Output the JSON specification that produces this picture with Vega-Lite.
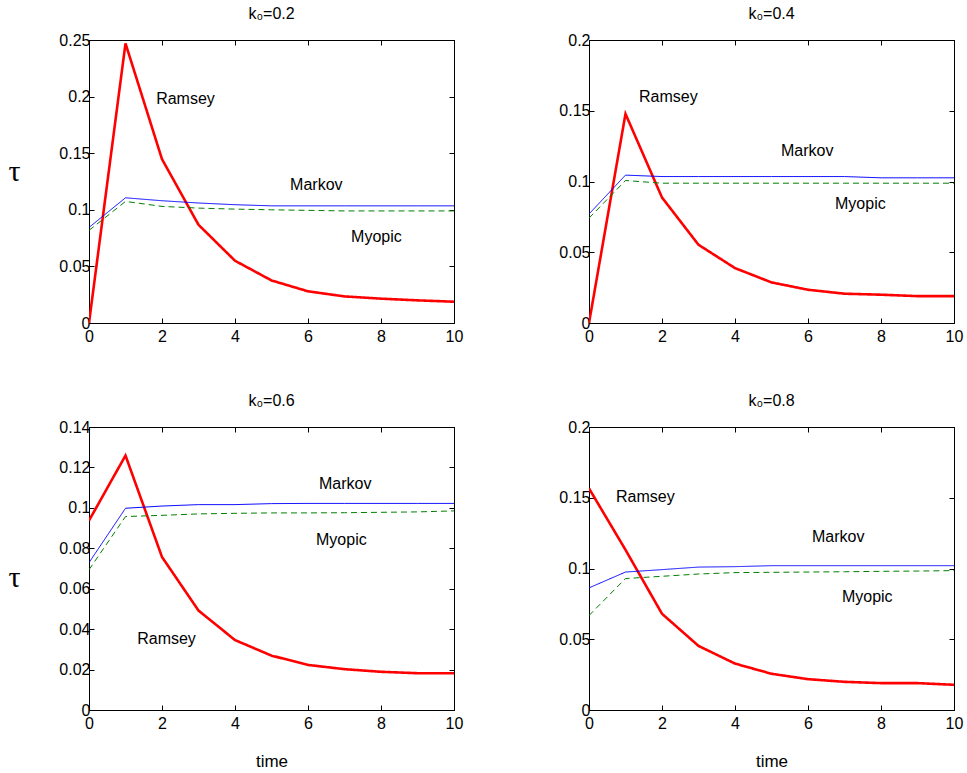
{
  "$schema": "https://vega.github.io/schema/vega-lite/v6.json",
  "background": "white",
  "padding": {"left": 7, "top": 5, "right": 5, "bottom": 5},
  "config": {
    "view": {"stroke": "black", "strokeWidth": 1},
    "axis": {"grid": false, "tickSize": -5, "tickColor": "black", "domainColor": "black", "labelColor": "black", "labelFont": "Liberation Sans", "labelFontSize": 16, "titleColor": "black", "titleFontWeight": "normal", "titleFont": "Liberation Sans", "titleFontSize": 17, "labelFlush": false, "labelOverlap": false},
    "axisX": {"labelPadding": 10},
    "axisY": {"labelPadding": 4},
    "title": {"font": "Liberation Sans", "fontSize": 16, "fontWeight": "normal", "color": "black", "offset": 10},
    "text": {"font": "Liberation Sans", "fontSize": 16, "color": "black"}
  },
  "datasets": {
    "lines": [
      {"panel": "0.2", "series": "Ramsey", "time": 0, "value": 0},
      {"panel": "0.2", "series": "Ramsey", "time": 1, "value": 0.247},
      {"panel": "0.2", "series": "Ramsey", "time": 2, "value": 0.1447},
      {"panel": "0.2", "series": "Ramsey", "time": 3, "value": 0.0868},
      {"panel": "0.2", "series": "Ramsey", "time": 4, "value": 0.055},
      {"panel": "0.2", "series": "Ramsey", "time": 5, "value": 0.0376},
      {"panel": "0.2", "series": "Ramsey", "time": 6, "value": 0.028},
      {"panel": "0.2", "series": "Ramsey", "time": 7, "value": 0.0235},
      {"panel": "0.2", "series": "Ramsey", "time": 8, "value": 0.0215},
      {"panel": "0.2", "series": "Ramsey", "time": 9, "value": 0.02},
      {"panel": "0.2", "series": "Ramsey", "time": 10, "value": 0.0188},
      {"panel": "0.2", "series": "Markov", "time": 0, "value": 0.0844},
      {"panel": "0.2", "series": "Markov", "time": 1, "value": 0.1106},
      {"panel": "0.2", "series": "Markov", "time": 2, "value": 0.108},
      {"panel": "0.2", "series": "Markov", "time": 3, "value": 0.106},
      {"panel": "0.2", "series": "Markov", "time": 4, "value": 0.1045},
      {"panel": "0.2", "series": "Markov", "time": 5, "value": 0.1035},
      {"panel": "0.2", "series": "Markov", "time": 6, "value": 0.1035},
      {"panel": "0.2", "series": "Markov", "time": 7, "value": 0.1035},
      {"panel": "0.2", "series": "Markov", "time": 8, "value": 0.1035},
      {"panel": "0.2", "series": "Markov", "time": 9, "value": 0.1035},
      {"panel": "0.2", "series": "Markov", "time": 10, "value": 0.1035},
      {"panel": "0.2", "series": "Myopic", "time": 0, "value": 0.0818},
      {"panel": "0.2", "series": "Myopic", "time": 1, "value": 0.1074},
      {"panel": "0.2", "series": "Myopic", "time": 2, "value": 0.103},
      {"panel": "0.2", "series": "Myopic", "time": 3, "value": 0.1015},
      {"panel": "0.2", "series": "Myopic", "time": 4, "value": 0.1006},
      {"panel": "0.2", "series": "Myopic", "time": 5, "value": 0.1},
      {"panel": "0.2", "series": "Myopic", "time": 6, "value": 0.0995},
      {"panel": "0.2", "series": "Myopic", "time": 7, "value": 0.099},
      {"panel": "0.2", "series": "Myopic", "time": 8, "value": 0.099},
      {"panel": "0.2", "series": "Myopic", "time": 9, "value": 0.099},
      {"panel": "0.2", "series": "Myopic", "time": 10, "value": 0.099},
      {"panel": "0.4", "series": "Ramsey", "time": 0, "value": 0},
      {"panel": "0.4", "series": "Ramsey", "time": 1, "value": 0.1478},
      {"panel": "0.4", "series": "Ramsey", "time": 2, "value": 0.0887},
      {"panel": "0.4", "series": "Ramsey", "time": 3, "value": 0.0553},
      {"panel": "0.4", "series": "Ramsey", "time": 4, "value": 0.0388},
      {"panel": "0.4", "series": "Ramsey", "time": 5, "value": 0.0287},
      {"panel": "0.4", "series": "Ramsey", "time": 6, "value": 0.0235},
      {"panel": "0.4", "series": "Ramsey", "time": 7, "value": 0.0207},
      {"panel": "0.4", "series": "Ramsey", "time": 8, "value": 0.02},
      {"panel": "0.4", "series": "Ramsey", "time": 9, "value": 0.019},
      {"panel": "0.4", "series": "Ramsey", "time": 10, "value": 0.019},
      {"panel": "0.4", "series": "Markov", "time": 0, "value": 0.077},
      {"panel": "0.4", "series": "Markov", "time": 1, "value": 0.1045},
      {"panel": "0.4", "series": "Markov", "time": 2, "value": 0.1035},
      {"panel": "0.4", "series": "Markov", "time": 3, "value": 0.1035},
      {"panel": "0.4", "series": "Markov", "time": 4, "value": 0.1035},
      {"panel": "0.4", "series": "Markov", "time": 5, "value": 0.1035},
      {"panel": "0.4", "series": "Markov", "time": 6, "value": 0.1035},
      {"panel": "0.4", "series": "Markov", "time": 7, "value": 0.1035},
      {"panel": "0.4", "series": "Markov", "time": 8, "value": 0.1026},
      {"panel": "0.4", "series": "Markov", "time": 9, "value": 0.1026},
      {"panel": "0.4", "series": "Markov", "time": 10, "value": 0.1026},
      {"panel": "0.4", "series": "Myopic", "time": 0, "value": 0.0741},
      {"panel": "0.4", "series": "Myopic", "time": 1, "value": 0.1007},
      {"panel": "0.4", "series": "Myopic", "time": 2, "value": 0.0988},
      {"panel": "0.4", "series": "Myopic", "time": 3, "value": 0.0988},
      {"panel": "0.4", "series": "Myopic", "time": 4, "value": 0.0988},
      {"panel": "0.4", "series": "Myopic", "time": 5, "value": 0.0988},
      {"panel": "0.4", "series": "Myopic", "time": 6, "value": 0.0988},
      {"panel": "0.4", "series": "Myopic", "time": 7, "value": 0.0988},
      {"panel": "0.4", "series": "Myopic", "time": 8, "value": 0.0988},
      {"panel": "0.4", "series": "Myopic", "time": 9, "value": 0.0988},
      {"panel": "0.4", "series": "Myopic", "time": 10, "value": 0.0988},
      {"panel": "0.6", "series": "Ramsey", "time": 0, "value": 0.0937},
      {"panel": "0.6", "series": "Ramsey", "time": 1, "value": 0.1259},
      {"panel": "0.6", "series": "Ramsey", "time": 2, "value": 0.0757},
      {"panel": "0.6", "series": "Ramsey", "time": 3, "value": 0.0492},
      {"panel": "0.6", "series": "Ramsey", "time": 4, "value": 0.0346},
      {"panel": "0.6", "series": "Ramsey", "time": 5, "value": 0.0269},
      {"panel": "0.6", "series": "Ramsey", "time": 6, "value": 0.0223},
      {"panel": "0.6", "series": "Ramsey", "time": 7, "value": 0.0202},
      {"panel": "0.6", "series": "Ramsey", "time": 8, "value": 0.0189},
      {"panel": "0.6", "series": "Ramsey", "time": 9, "value": 0.0182},
      {"panel": "0.6", "series": "Ramsey", "time": 10, "value": 0.0182},
      {"panel": "0.6", "series": "Markov", "time": 0, "value": 0.0729},
      {"panel": "0.6", "series": "Markov", "time": 1, "value": 0.0998},
      {"panel": "0.6", "series": "Markov", "time": 2, "value": 0.1009},
      {"panel": "0.6", "series": "Markov", "time": 3, "value": 0.1016},
      {"panel": "0.6", "series": "Markov", "time": 4, "value": 0.1016},
      {"panel": "0.6", "series": "Markov", "time": 5, "value": 0.1021},
      {"panel": "0.6", "series": "Markov", "time": 6, "value": 0.1022},
      {"panel": "0.6", "series": "Markov", "time": 7, "value": 0.1022},
      {"panel": "0.6", "series": "Markov", "time": 8, "value": 0.1022},
      {"panel": "0.6", "series": "Markov", "time": 9, "value": 0.1022},
      {"panel": "0.6", "series": "Markov", "time": 10, "value": 0.1022},
      {"panel": "0.6", "series": "Myopic", "time": 0, "value": 0.0694},
      {"panel": "0.6", "series": "Myopic", "time": 1, "value": 0.0957},
      {"panel": "0.6", "series": "Myopic", "time": 2, "value": 0.0963},
      {"panel": "0.6", "series": "Myopic", "time": 3, "value": 0.097},
      {"panel": "0.6", "series": "Myopic", "time": 4, "value": 0.0973},
      {"panel": "0.6", "series": "Myopic", "time": 5, "value": 0.0975},
      {"panel": "0.6", "series": "Myopic", "time": 6, "value": 0.0975},
      {"panel": "0.6", "series": "Myopic", "time": 7, "value": 0.0976},
      {"panel": "0.6", "series": "Myopic", "time": 8, "value": 0.0978},
      {"panel": "0.6", "series": "Myopic", "time": 9, "value": 0.098},
      {"panel": "0.6", "series": "Myopic", "time": 10, "value": 0.0985},
      {"panel": "0.8", "series": "Ramsey", "time": 0, "value": 0.1566},
      {"panel": "0.8", "series": "Ramsey", "time": 1, "value": 0.1132},
      {"panel": "0.8", "series": "Ramsey", "time": 2, "value": 0.068},
      {"panel": "0.8", "series": "Ramsey", "time": 3, "value": 0.0453},
      {"panel": "0.8", "series": "Ramsey", "time": 4, "value": 0.0328},
      {"panel": "0.8", "series": "Ramsey", "time": 5, "value": 0.0256},
      {"panel": "0.8", "series": "Ramsey", "time": 6, "value": 0.0218},
      {"panel": "0.8", "series": "Ramsey", "time": 7, "value": 0.0199},
      {"panel": "0.8", "series": "Ramsey", "time": 8, "value": 0.019},
      {"panel": "0.8", "series": "Ramsey", "time": 9, "value": 0.019},
      {"panel": "0.8", "series": "Ramsey", "time": 10, "value": 0.0178},
      {"panel": "0.8", "series": "Markov", "time": 0, "value": 0.0863},
      {"panel": "0.8", "series": "Markov", "time": 1, "value": 0.0975},
      {"panel": "0.8", "series": "Markov", "time": 2, "value": 0.0992},
      {"panel": "0.8", "series": "Markov", "time": 3, "value": 0.101},
      {"panel": "0.8", "series": "Markov", "time": 4, "value": 0.1013},
      {"panel": "0.8", "series": "Markov", "time": 5, "value": 0.102},
      {"panel": "0.8", "series": "Markov", "time": 6, "value": 0.102},
      {"panel": "0.8", "series": "Markov", "time": 7, "value": 0.102},
      {"panel": "0.8", "series": "Markov", "time": 8, "value": 0.102},
      {"panel": "0.8", "series": "Markov", "time": 9, "value": 0.102},
      {"panel": "0.8", "series": "Markov", "time": 10, "value": 0.102},
      {"panel": "0.8", "series": "Myopic", "time": 0, "value": 0.0668},
      {"panel": "0.8", "series": "Myopic", "time": 1, "value": 0.0929},
      {"panel": "0.8", "series": "Myopic", "time": 2, "value": 0.0945},
      {"panel": "0.8", "series": "Myopic", "time": 3, "value": 0.0961},
      {"panel": "0.8", "series": "Myopic", "time": 4, "value": 0.0971},
      {"panel": "0.8", "series": "Myopic", "time": 5, "value": 0.0973},
      {"panel": "0.8", "series": "Myopic", "time": 6, "value": 0.0975},
      {"panel": "0.8", "series": "Myopic", "time": 7, "value": 0.0977},
      {"panel": "0.8", "series": "Myopic", "time": 8, "value": 0.098},
      {"panel": "0.8", "series": "Myopic", "time": 9, "value": 0.0982},
      {"panel": "0.8", "series": "Myopic", "time": 10, "value": 0.0985}
    ],
    "labels": [
      {"panel": "0.2", "series": "Ramsey", "time": 1.84, "value": 0.198},
      {"panel": "0.2", "series": "Markov", "time": 5.51, "value": 0.122},
      {"panel": "0.2", "series": "Myopic", "time": 7.18, "value": 0.076},
      {"panel": "0.4", "series": "Ramsey", "time": 1.37, "value": 0.16},
      {"panel": "0.4", "series": "Markov", "time": 5.26, "value": 0.1216},
      {"panel": "0.4", "series": "Myopic", "time": 6.74, "value": 0.084},
      {"panel": "0.6", "series": "Ramsey", "time": 1.32, "value": 0.035},
      {"panel": "0.6", "series": "Markov", "time": 6.3, "value": 0.112},
      {"panel": "0.6", "series": "Myopic", "time": 6.22, "value": 0.0843},
      {"panel": "0.8", "series": "Ramsey", "time": 0.74, "value": 0.1507},
      {"panel": "0.8", "series": "Markov", "time": 6.11, "value": 0.1225},
      {"panel": "0.8", "series": "Myopic", "time": 6.93, "value": 0.0796}
    ]
  },
  "hconcat": [
    {
      "spacing": 47,
      "vconcat": [
        {
          "width": 365, "height": 283,
          "title": "k₀=0.2",
          "layer": [
            {
              "data": {"name": "lines"},
              "transform": [{"filter": "datum.panel === '0.2'"}],
              "mark": {"type": "line", "clip": true},
              "encoding": {
                "x": {"field": "time", "type": "quantitative", "scale": {"domain": [0, 10], "nice": false}, "axis": {"orient": "bottom", "values": [0, 2, 4, 6, 8, 10], "title": null}},
                "y": {"field": "value", "type": "quantitative", "scale": {"domain": [0, 0.25], "nice": false}, "axis": {"orient": "left", "values": [0, 0.05, 0.1, 0.15, 0.2, 0.25], "format": "~g", "title": "τ", "titleAngle": 0, "titleFont": "Liberation Serif", "titleFontSize": 30, "titleX": -75, "titleY": 131, "titleAlign": "center", "titleBaseline": "middle"}},
                "color": {"field": "series", "type": "nominal", "scale": {"domain": ["Ramsey", "Markov", "Myopic"], "range": ["#ff0000", "#0000ff", "#008000"]}, "legend": null},
                "strokeDash": {"field": "series", "type": "nominal", "scale": {"domain": ["Ramsey", "Markov", "Myopic"], "range": [[1, 0], [1, 0], [6, 4]]}, "legend": null},
                "strokeWidth": {"condition": {"test": "datum.series === 'Ramsey'", "value": 2.6}, "value": 1}
              }
            },
            {
              "data": {"name": "labels"},
              "transform": [{"filter": "datum.panel === '0.2'"}],
              "mark": {"type": "text", "align": "left", "baseline": "middle"},
              "encoding": {
                "x": {"field": "time", "type": "quantitative", "axis": {"orient": "top", "values": [0, 2, 4, 6, 8, 10], "labels": false, "title": null}},
                "y": {"field": "value", "type": "quantitative", "axis": {"orient": "right", "values": [0, 0.05, 0.1, 0.15, 0.2, 0.25], "labels": false, "title": null}},
                "text": {"field": "series"}
              }
            }
          ],
          "resolve": {"axis": {"x": "independent", "y": "independent"}}
        },
        {
          "width": 365, "height": 283,
          "title": "k₀=0.6",
          "layer": [
            {
              "data": {"name": "lines"},
              "transform": [{"filter": "datum.panel === '0.6'"}],
              "mark": {"type": "line", "clip": true},
              "encoding": {
                "x": {"field": "time", "type": "quantitative", "scale": {"domain": [0, 10], "nice": false}, "axis": {"orient": "bottom", "values": [0, 2, 4, 6, 8, 10], "title": "time", "titlePadding": 22}},
                "y": {"field": "value", "type": "quantitative", "scale": {"domain": [0, 0.14], "nice": false}, "axis": {"orient": "left", "values": [0, 0.02, 0.04, 0.06, 0.08, 0.1, 0.12, 0.14], "format": "~g", "title": "τ", "titleAngle": 0, "titleFont": "Liberation Serif", "titleFontSize": 30, "titleX": -75, "titleY": 150, "titleAlign": "center", "titleBaseline": "middle"}},
                "color": {"field": "series", "type": "nominal", "scale": {"domain": ["Ramsey", "Markov", "Myopic"], "range": ["#ff0000", "#0000ff", "#008000"]}, "legend": null},
                "strokeDash": {"field": "series", "type": "nominal", "scale": {"domain": ["Ramsey", "Markov", "Myopic"], "range": [[1, 0], [1, 0], [6, 4]]}, "legend": null},
                "strokeWidth": {"condition": {"test": "datum.series === 'Ramsey'", "value": 2.6}, "value": 1}
              }
            },
            {
              "data": {"name": "labels"},
              "transform": [{"filter": "datum.panel === '0.6'"}],
              "mark": {"type": "text", "align": "left", "baseline": "middle"},
              "encoding": {
                "x": {"field": "time", "type": "quantitative", "axis": {"orient": "top", "values": [0, 2, 4, 6, 8, 10], "labels": false, "title": null}},
                "y": {"field": "value", "type": "quantitative", "axis": {"orient": "right", "values": [0, 0.02, 0.04, 0.06, 0.08, 0.1, 0.12, 0.14], "labels": false, "title": null}},
                "text": {"field": "series"}
              }
            }
          ],
          "resolve": {"axis": {"x": "independent", "y": "independent"}}
        }
      ]
    },
    {
      "spacing": 47,
      "vconcat": [
        {
          "width": 365, "height": 283,
          "title": "k₀=0.4",
          "layer": [
            {
              "data": {"name": "lines"},
              "transform": [{"filter": "datum.panel === '0.4'"}],
              "mark": {"type": "line", "clip": true},
              "encoding": {
                "x": {"field": "time", "type": "quantitative", "scale": {"domain": [0, 10], "nice": false}, "axis": {"orient": "bottom", "values": [0, 2, 4, 6, 8, 10], "title": null}},
                "y": {"field": "value", "type": "quantitative", "scale": {"domain": [0, 0.2], "nice": false}, "axis": {"orient": "left", "values": [0, 0.05, 0.1, 0.15, 0.2], "format": "~g", "title": null}},
                "color": {"field": "series", "type": "nominal", "scale": {"domain": ["Ramsey", "Markov", "Myopic"], "range": ["#ff0000", "#0000ff", "#008000"]}, "legend": null},
                "strokeDash": {"field": "series", "type": "nominal", "scale": {"domain": ["Ramsey", "Markov", "Myopic"], "range": [[1, 0], [1, 0], [6, 4]]}, "legend": null},
                "strokeWidth": {"condition": {"test": "datum.series === 'Ramsey'", "value": 2.6}, "value": 1}
              }
            },
            {
              "data": {"name": "labels"},
              "transform": [{"filter": "datum.panel === '0.4'"}],
              "mark": {"type": "text", "align": "left", "baseline": "middle"},
              "encoding": {
                "x": {"field": "time", "type": "quantitative", "axis": {"orient": "top", "values": [0, 2, 4, 6, 8, 10], "labels": false, "title": null}},
                "y": {"field": "value", "type": "quantitative", "axis": {"orient": "right", "values": [0, 0.05, 0.1, 0.15, 0.2], "labels": false, "title": null}},
                "text": {"field": "series"}
              }
            }
          ],
          "resolve": {"axis": {"x": "independent", "y": "independent"}}
        },
        {
          "width": 365, "height": 283,
          "title": "k₀=0.8",
          "layer": [
            {
              "data": {"name": "lines"},
              "transform": [{"filter": "datum.panel === '0.8'"}],
              "mark": {"type": "line", "clip": true},
              "encoding": {
                "x": {"field": "time", "type": "quantitative", "scale": {"domain": [0, 10], "nice": false}, "axis": {"orient": "bottom", "values": [0, 2, 4, 6, 8, 10], "title": "time", "titlePadding": 22}},
                "y": {"field": "value", "type": "quantitative", "scale": {"domain": [0, 0.2], "nice": false}, "axis": {"orient": "left", "values": [0, 0.05, 0.1, 0.15, 0.2], "format": "~g", "title": null}},
                "color": {"field": "series", "type": "nominal", "scale": {"domain": ["Ramsey", "Markov", "Myopic"], "range": ["#ff0000", "#0000ff", "#008000"]}, "legend": null},
                "strokeDash": {"field": "series", "type": "nominal", "scale": {"domain": ["Ramsey", "Markov", "Myopic"], "range": [[1, 0], [1, 0], [6, 4]]}, "legend": null},
                "strokeWidth": {"condition": {"test": "datum.series === 'Ramsey'", "value": 2.6}, "value": 1}
              }
            },
            {
              "data": {"name": "labels"},
              "transform": [{"filter": "datum.panel === '0.8'"}],
              "mark": {"type": "text", "align": "left", "baseline": "middle"},
              "encoding": {
                "x": {"field": "time", "type": "quantitative", "axis": {"orient": "top", "values": [0, 2, 4, 6, 8, 10], "labels": false, "title": null}},
                "y": {"field": "value", "type": "quantitative", "axis": {"orient": "right", "values": [0, 0.05, 0.1, 0.15, 0.2], "labels": false, "title": null}},
                "text": {"field": "series"}
              }
            }
          ],
          "resolve": {"axis": {"x": "independent", "y": "independent"}}
        }
      ]
    }
  ],
  "spacing": 94
}
